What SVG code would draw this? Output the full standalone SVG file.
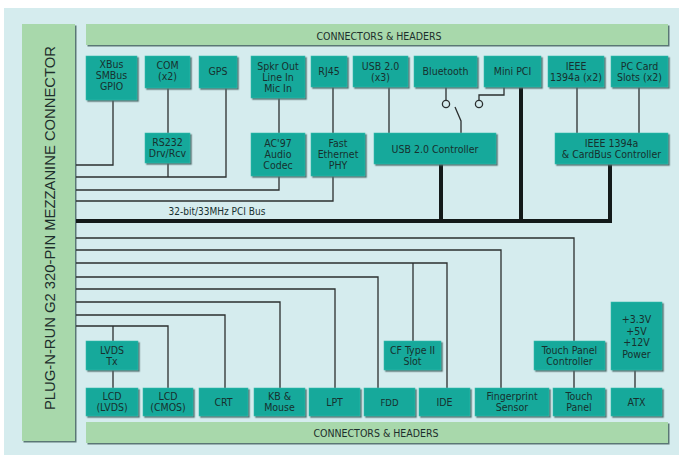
<svg xmlns="http://www.w3.org/2000/svg" width="679" height="455" viewBox="0 0 679 455">
<defs>
<filter id="sh" x="-10%" y="-10%" width="130%" height="130%">
<feDropShadow dx="1.5" dy="1.5" stdDeviation="0.6" flood-color="#4d6b68" flood-opacity="0.9"/>
</filter>
<style>
.bg{fill:#d5ecee}
.bar{fill:#a8d8ab;filter:url(#sh)}
.n rect{fill:#12a99b;stroke:#3fbcaf;stroke-width:0.6;filter:url(#sh)}
.n text,.lbl{font-family:"Liberation Sans Narrow","DejaVu Sans Condensed","Liberation Sans",sans-serif;font-size:10.5px;fill:#17302e;text-anchor:middle}
.bt{font-family:"Liberation Sans Narrow","DejaVu Sans Condensed","Liberation Sans",sans-serif;font-size:10.5px;fill:#1d2e2c;text-anchor:middle}
.w{fill:none;stroke:#2b2f2f;stroke-width:1.3}
.bus{fill:none;stroke:#141a1a;stroke-width:4}
</style>
</defs>
<rect class="bg" x="4" y="8" width="675" height="447"/>

<g id="mezzanine">
<rect class="bar" x="22" y="24" width="53" height="417"/>
<text class="bt" transform="translate(55,228) rotate(-90)" style="font-family:'Liberation Sans',sans-serif;font-size:14px" textLength="364" lengthAdjust="spacingAndGlyphs">PLUG-N-RUN G2 320-PIN MEZZANINE CONNECTOR</text>
</g>
<g id="top-headers">
<rect class="bar" x="86" y="24" width="582" height="21"/>
<text class="bt" x="379" y="40">CONNECTORS &amp; HEADERS</text>
</g>
<g id="bottom-headers">
<rect class="bar" x="86" y="422" width="582" height="21"/>
<text class="bt" x="376" y="437">CONNECTORS &amp; HEADERS</text>
</g>

<g id="connectors">
<!-- top side -->
<polyline class="w" points="113,100 113,165 76,165"/>
<line class="w" x1="168" y1="88" x2="168" y2="133"/>
<polyline class="w" points="168,163 168,177"/>
<polyline class="w" points="76,177 226,177 226,88"/>
<line class="w" x1="279" y1="98" x2="279" y2="133"/>
<polyline class="w" points="76,190 279,190 279,176"/>
<line class="w" x1="333" y1="87" x2="333" y2="133"/>
<polyline class="w" points="76,201 333,201 333,176"/>
<line class="w" x1="389" y1="87" x2="389" y2="133"/>
<line class="w" x1="446" y1="87" x2="446" y2="100"/>
<circle class="w" cx="446" cy="104" r="3.6"/>
<polyline class="w" points="455,107 461,121 461,133"/>
<polyline class="w" points="504,87 504,95 479,95 479,100"/>
<circle class="w" cx="479" cy="104" r="3.6"/>
<line class="w" x1="577" y1="87" x2="577" y2="133"/>
<line class="w" x1="639" y1="87" x2="639" y2="133"/>
<!-- PCI bus -->
<line class="bus" x1="76" y1="221" x2="612" y2="221"/>
<line class="bus" x1="441" y1="164" x2="441" y2="221"/>
<line class="bus" x1="521" y1="87" x2="521" y2="221"/>
<line class="bus" x1="610" y1="164" x2="610" y2="221"/>
<!-- bottom side -->
<polyline class="w" points="76,238 574,238 574,341"/>
<polyline class="w" points="76,250 501,250 501,388"/>
<polyline class="w" points="76,263 447,263 447,388"/>
<line class="w" x1="413" y1="263" x2="413" y2="341"/>
<polyline class="w" points="76,277 378,277 378,388"/>
<polyline class="w" points="76,289 335,289 335,388"/>
<polyline class="w" points="76,302 280,302 280,388"/>
<polyline class="w" points="76,315 225,315 225,388"/>
<polyline class="w" points="76,326 168,326 168,388"/>
<line class="w" x1="113" y1="326" x2="113" y2="341"/>
<line class="w" x1="113" y1="370" x2="113" y2="388"/>
<line class="w" x1="574" y1="370" x2="574" y2="388"/>
<line class="w" x1="635" y1="370" x2="635" y2="388"/>
</g>
<text class="lbl" x="217" y="215" style="font-size:10px">32-bit/33MHz PCI Bus</text>

<g id="xbus" class="n"><rect x="86" y="56" width="51" height="44"/><text x="111.5" y="68">XBus</text><text x="111.5" y="79">SMBus</text><text x="111.5" y="90">GPIO</text></g>
<g id="com" class="n"><rect x="145" y="56" width="45" height="32"/><text x="167.5" y="69">COM</text><text x="167.5" y="80">(x2)</text></g>
<g id="gps" class="n"><rect x="199" y="56" width="38" height="32"/><text x="218" y="75">GPS</text></g>
<g id="spkr" class="n"><rect x="251" y="56" width="54" height="42"/><text x="278" y="70">Spkr Out</text><text x="278" y="81">Line In</text><text x="278" y="92">Mic In</text></g>
<g id="rj45" class="n"><rect x="311" y="56" width="36" height="31"/><text x="329" y="75">RJ45</text></g>
<g id="usb" class="n"><rect x="353" y="56" width="55" height="31"/><text x="380.5" y="70">USB 2.0</text><text x="380.5" y="81">(x3)</text></g>
<g id="bluetooth" class="n"><rect x="414" y="56" width="63" height="31"/><text x="445.5" y="75">Bluetooth</text></g>
<g id="minipci" class="n"><rect x="484" y="56" width="57" height="31"/><text x="512.5" y="75">Mini PCI</text></g>
<g id="ieee" class="n"><rect x="548" y="56" width="56" height="31"/><text x="576" y="70">IEEE</text><text x="576" y="81">1394a (x2)</text></g>
<g id="pccard" class="n"><rect x="611" y="56" width="57" height="31"/><text x="639.5" y="70">PC Card</text><text x="639.5" y="81">Slots (x2)</text></g>

<g id="rs232" class="n"><rect x="145" y="133" width="45" height="30"/><text x="167.5" y="146">RS232</text><text x="167.5" y="157">Drv/Rcv</text></g>
<g id="ac97" class="n"><rect x="251" y="133" width="54" height="43"/><text x="278" y="147">AC'97</text><text x="278" y="158">Audio</text><text x="278" y="169">Codec</text></g>
<g id="feth" class="n"><rect x="311" y="133" width="54" height="43"/><text x="338" y="147">Fast</text><text x="338" y="158">Ethernet</text><text x="338" y="169">PHY</text></g>
<g id="usbctl" class="n"><rect x="374" y="133" width="122" height="31"/><text x="435" y="153">USB 2.0 Controller</text></g>
<g id="ieeectl" class="n"><rect x="555" y="133" width="113" height="31"/><text x="611.5" y="147">IEEE 1394a</text><text x="611.5" y="158">&amp; CardBus Controller</text></g>

<g id="lvdstx" class="n"><rect x="86" y="341" width="52" height="29"/><text x="112" y="354">LVDS</text><text x="112" y="365">Tx</text></g>
<g id="cf" class="n"><rect x="384" y="341" width="57" height="29"/><text x="412.5" y="354">CF Type II</text><text x="412.5" y="365">Slot</text></g>
<g id="tpc" class="n"><rect x="534" y="341" width="71" height="29"/><text x="569.5" y="354">Touch Panel</text><text x="569.5" y="365">Controller</text></g>
<g id="power" class="n"><rect x="611" y="302" width="51" height="68"/><text x="636.5" y="323">+3.3V</text><text x="636.5" y="334.5">+5V</text><text x="636.5" y="346">+12V</text><text x="636.5" y="357.5">Power</text></g>

<g id="lcdlvds" class="n"><rect x="86" y="388" width="52" height="28"/><text x="112" y="400">LCD</text><text x="112" y="411">(LVDS)</text></g>
<g id="lcdcmos" class="n"><rect x="143" y="388" width="50" height="28"/><text x="168" y="400">LCD</text><text x="168" y="411">(CMOS)</text></g>
<g id="crt" class="n"><rect x="199" y="388" width="49" height="28"/><text x="223.5" y="406">CRT</text></g>
<g id="kb" class="n"><rect x="254" y="388" width="51" height="28"/><text x="279.5" y="400">KB &amp;</text><text x="279.5" y="411">Mouse</text></g>
<g id="lpt" class="n"><rect x="309" y="388" width="51" height="28"/><text x="334.5" y="406">LPT</text></g>
<g id="fdd" class="n"><rect x="364" y="388" width="51" height="28"/><text x="389.5" y="406" style="font-size:9.5px">FDD</text></g>
<g id="ide" class="n"><rect x="419" y="388" width="51" height="28"/><text x="444.5" y="406">IDE</text></g>
<g id="finger" class="n"><rect x="475" y="388" width="74" height="28"/><text x="512" y="400">Fingerprint</text><text x="512" y="411">Sensor</text></g>
<g id="touch" class="n"><rect x="553" y="388" width="52" height="28"/><text x="579" y="400">Touch</text><text x="579" y="411">Panel</text></g>
<g id="atx" class="n"><rect x="611" y="388" width="51" height="28"/><text x="636.5" y="406">ATX</text></g>
</svg>
